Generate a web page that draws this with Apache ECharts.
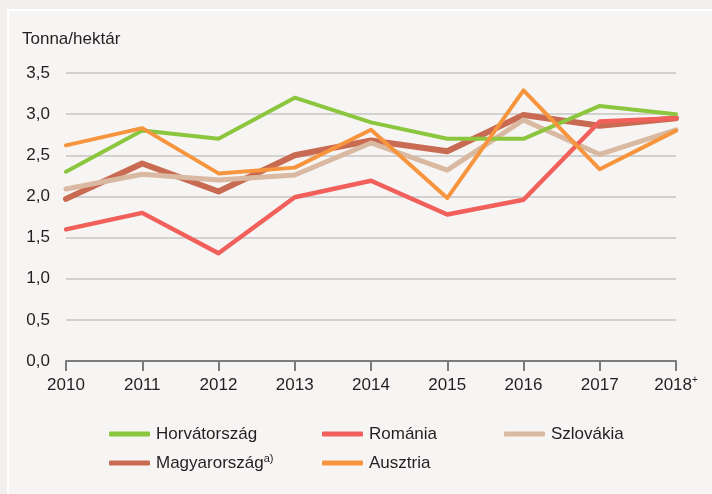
<!DOCTYPE html>
<html>
<head>
<meta charset="utf-8">
<script src="https://cdn.jsdelivr.net/npm/echarts@6/dist/echarts.min.js"></script>
<style>
    html, body { margin: 0; padding: 0; background: #f1f0ee; }
    #chart { width: 712px; height: 494px; }
</style>
</head>
<body>
<div id="chart"></div>
<script>
// kategóriák (évek)
var years = ['2010', '2011', '2012', '2013', '2014', '2015', '2016', '2017', '2018+'];

// termésátlagok, tonna/hektár
var horvatorszag = [2.3, 2.8, 2.7, 3.2, 2.9, 2.7, 2.7, 3.1, 3.0];
var romania = [1.6, 1.8, 1.31, 1.99, 2.19, 1.78, 1.96, 2.91, 2.95];
var szlovakia = [2.09, 2.27, 2.2, 2.26, 2.65, 2.32, 2.93, 2.51, 2.81];
var magyarorszag = [1.97, 2.4, 2.06, 2.5, 2.68, 2.55, 2.99, 2.86, 2.95];
var ausztria = [2.62, 2.83, 2.28, 2.35, 2.81, 1.98, 3.29, 2.33, 2.8];

var FONT = "'Liberation Sans', Arial, sans-serif";
var FS = 17;
var LH = 20;
var TXT = '#231f20';

function line(name, data, color, width) {
    return {
        name: name,
        type: 'line',
        data: data,
        symbol: 'none',
        lineStyle: { color: color, width: width, cap: 'round', join: 'round' },
        itemStyle: { color: color }
    };
}

function legendItem(name, left, top) {
    return {
        data: [name],
        left: left,
        top: top,
        icon: 'roundRect',
        itemWidth: 41,
        itemHeight: 5,
        itemGap: 0,
        padding: 0,
        selectedMode: false,
        textStyle: {
            fontFamily: FONT, fontSize: FS, color: TXT, lineHeight: LH, padding: [0, 0, 0, 1],
            rich: {
                n: { fontFamily: FONT, fontSize: FS, color: TXT, lineHeight: LH },
                s: { fontFamily: FONT, fontSize: 11, color: TXT, lineHeight: LH, verticalAlign: 'top' }
            }
        },
        formatter: function (n) {
            return n === 'Magyarország' ? '{n|Magyarország}{s|a)}' : n;
        }
    };
}

var option = {
    animation: false,
    backgroundColor: '#f1f0ee',
    textStyle: { fontFamily: FONT },
    graphic: [
        {
            type: 'rect',
            left: 7, top: 9,
            shape: { width: 720, height: 500 },
            style: { fill: '#f6f5f3', stroke: '#ffffff', lineWidth: 2 },
            z: -10
        },
        {
            type: 'text',
            left: 22, top: 31,
            style: { text: 'Tonna/hektár', font: FS + 'px ' + FONT, fill: TXT }
        }
    ],
    grid: { left: 66, right: 36, top: 73, bottom: 133 },
    legend: [
        legendItem('Horvátország', 109, 424),
        legendItem('Románia', 322, 424),
        legendItem('Szlovákia', 504, 424),
        legendItem('Magyarország', 109, 453),
        legendItem('Ausztria', 322, 453)
    ],
    xAxis: {
        type: 'category',
        data: years,
        boundaryGap: false,
        axisLine: { lineStyle: { color: '#7b7b7b', width: 2 } },
        axisTick: { alignWithLabel: true, interval: 0, length: 10, lineStyle: { color: '#7b7b7b', width: 2 } },
        axisLabel: {
            interval: 0,
            margin: 14,
            fontFamily: FONT, fontSize: FS, color: TXT, lineHeight: LH,
            rich: {
                y: { fontFamily: FONT, fontSize: FS, color: TXT, lineHeight: LH },
                s: { fontFamily: FONT, fontSize: 10, color: TXT, lineHeight: LH, verticalAlign: 'top' }
            },
            formatter: function (v) {
                return v === '2018+' ? '{y|2018}{s|+}' : v;
            }
        },
        splitLine: { show: false }
    },
    yAxis: {
        type: 'value',
        min: 0, max: 3.5, interval: 0.5,
        axisLine: { show: false },
        axisTick: { show: false },
        axisLabel: {
            margin: 16,
            fontFamily: FONT, fontSize: FS, color: TXT,
            formatter: function (v) { return v.toFixed(1).replace('.', ','); }
        },
        splitLine: { lineStyle: { color: '#c6c5c5', width: 1.5 } }
    },
    series: [
        line('Magyarország', magyarorszag, '#c96a52', 6),
        line('Szlovákia', szlovakia, '#d9b9a1', 5),
        line('Horvátország', horvatorszag, '#8cc63f', 4),
        line('Románia', romania, '#f1605a', 4.5),
        line('Ausztria', ausztria, '#f7953f', 4)
    ]
};

var myChart = echarts.init(document.getElementById('chart'));
myChart.setOption(option);
</script>
</body>
</html>
